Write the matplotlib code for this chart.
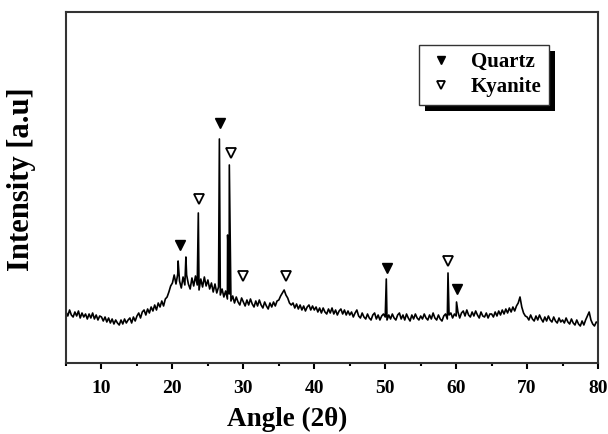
import matplotlib.pyplot as plt
from matplotlib.patches import Rectangle
from matplotlib.transforms import IdentityTransform
import numpy as np

plt.rcParams['font.family'] = ['Liberation Serif', 'DejaVu Serif']
plt.rcParams['font.weight'] = 'bold'

bg_start, bg_step = 5.0, 0.25
bg_y = [
    43, 39, 45, 40, 38, 43, 39, 44, 37, 42, 38, 41, 36, 41, 37, 42, 36, 40, 35, 39,   # 5-10
    38, 34, 38, 33, 37, 32, 36, 31, 35, 32, 30, 35, 31, 36, 32, 35, 37, 32, 38, 34,   # 10-15
    39, 42, 37, 43, 45, 40, 46, 42, 48, 44, 50, 45, 52, 48, 54, 49, 56, 58, 63, 69,   # 15-20
    72, 80, 71, 81, 74, 67, 78, 70, 80, 71, 66, 77, 69, 79, 70, 65, 76, 68, 78, 69,   # 20-25
    75, 66, 72, 63, 71, 62, 68, 60, 66, 58, 64, 56, 61, 54, 59, 52, 58, 53, 50, 57,   # 25-30
    53, 49, 55, 50, 56, 51, 48, 54, 49, 55, 50, 47, 53, 49, 46, 52, 48, 53, 49, 54,   # 30-35
    55, 59, 62, 65, 60, 57, 52, 50, 52, 47, 51, 46, 50, 45, 49, 44, 48, 50, 45, 49,   # 35-40
    45, 48, 43, 47, 42, 47, 43, 41, 46, 42, 47, 41, 45, 40, 44, 46, 41, 45, 40, 44,   # 40-45
    40, 43, 38, 42, 45, 39, 37, 42, 38, 36, 41, 37, 35, 40, 42, 36, 40, 35, 39, 41,   # 45-50
    38, 35, 40, 36, 41, 37, 35, 40, 42, 36, 40, 35, 41, 37, 34, 40, 36, 41, 37, 35,   # 50-55
    39, 36, 41, 37, 35, 40, 36, 42, 37, 35, 40, 36, 34, 39, 41, 36, 40, 42, 37, 41,   # 55-60
    39, 43, 37, 42, 44, 39, 45, 40, 38, 43, 39, 44, 40, 37, 43, 39, 38, 42, 37, 41,   # 60-65
    41, 38, 43, 39, 44, 40, 45, 41, 46, 42, 47, 43, 48, 44, 49, 52, 58, 48, 42, 39,   # 65-70
    38, 35, 40, 36, 34, 39, 35, 40, 36, 33, 38, 34, 39, 35, 33, 38, 34, 32, 37, 33,   # 70-75
    35, 32, 37, 33, 31, 36, 32, 30, 35, 31, 29, 34, 30, 35, 39, 43, 35, 31, 29, 33,   # 75-80
    32,
]

# sharp reflections
peak_x = [20.8, 21.9, 23.65, 26.62, 27.78, 27.9, 28.02, 50.15, 58.85, 60.05]
peak_y = [94, 98, 142, 216, 120, 100, 190, 76, 82, 53]

# phase markers
quartz_x = [21.1, 26.7, 50.2, 60.1]
quartz_y = [110, 232, 87, 66]
kyanite_x = [23.8, 28.3, 29.9, 36.0, 58.8]
kyanite_y = [156, 202, 79, 79, 94]

bg_x = bg_start + bg_step * np.arange(len(bg_y))
x = np.concatenate([bg_x, peak_x])
y = np.concatenate([bg_y, peak_y])
order = np.argsort(x, kind='stable')

fig = plt.figure(figsize=(6.08, 4.34), dpi=100)
ax = fig.add_axes([0.1086, 0.1636, 0.875, 0.8088])

ax.plot(x[order], y[order], color='black', lw=1.2)
ax.plot(quartz_x, quartz_y, 'v', color='black', ms=7, ls='none', label='Quartz')
ax.plot(kyanite_x, kyanite_y, 'v', mfc='white', mec='black', mew=1.3, ms=7, ls='none', label='Kyanite')

ax.set_xlim(5, 80)
ax.set_ylim(-8, 343)
ax.set_xticks(range(10, 81, 10))
ax.set_xticks(range(5, 81, 5), minor=True)
ax.set_yticks([])
ax.tick_params(axis='x', which='major', direction='out', length=4.5, width=1.5, labelsize=14, pad=8)
ax.tick_params(axis='x', which='minor', direction='out', length=2.5, width=1.5)
for s in ax.spines.values():
    s.set_linewidth(1.5)
    s.set_color('#333333')

fig.text(287 / 608, 1 - 419 / 434, 'Angle (2θ)', fontsize=19.5, fontweight='bold',
         ha='center', va='center')
fig.text(21 / 608, 1 - 179 / 434, 'Intensity [a.u]', fontsize=22, fontweight='bold',
         ha='center', va='center', rotation=90)

leg = ax.legend(loc='upper right', bbox_to_anchor=(0.908, 0.906), borderaxespad=0,
                fontsize=15, frameon=True, fancybox=False, markerscale=0.75,
                handletextpad=0.75, borderpad=0.35, labelspacing=0.25, handlelength=1.4)
leg.get_frame().set_edgecolor('#333333')
leg.get_frame().set_linewidth(1.0)
leg.get_frame().set_alpha(1)

# offset black shadow behind the legend box
fig.canvas.draw()
bb = leg.get_window_extent()
ax.add_patch(Rectangle((bb.x0 + 6, bb.y0 - 6), bb.width, bb.height, facecolor='black',
                       edgecolor='none', transform=IdentityTransform(), clip_on=False, zorder=4.9))

fig.savefig('out.png', dpi=100)
